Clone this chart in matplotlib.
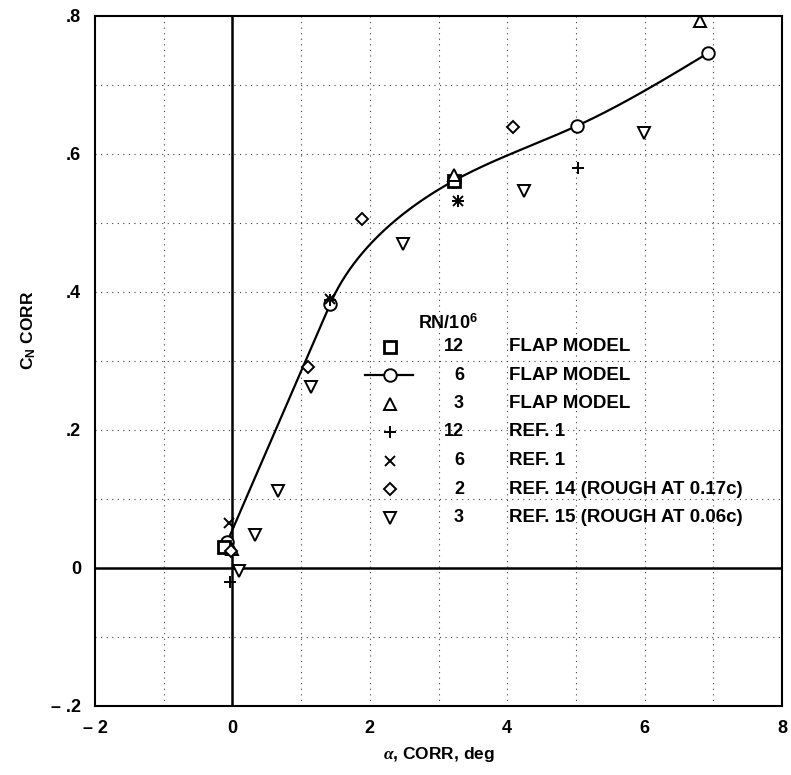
import numpy as np
import matplotlib
matplotlib.use("Agg")
import matplotlib.pyplot as plt

plt.rcParams["font.family"] = ["Liberation Sans", "DejaVu Sans"]
plt.rcParams["font.weight"] = "bold"
plt.rcParams["mathtext.fontset"] = "custom"
plt.rcParams["mathtext.rm"] = "Liberation Sans:bold"
plt.rcParams["mathtext.it"] = "Liberation Serif:italic"
plt.rcParams["mathtext.bf"] = "Liberation Sans:bold"

# 12 x 10^6, flap model
flap12_a = [-0.12, 3.22]
flap12_cn = [0.031, 0.561]
# 6 x 10^6, flap model (faired curve)
flap6_a = [-0.08, 1.42, 3.22, 5.02, 6.92]
flap6_cn = [0.037, 0.382, 0.561, 0.641, 0.746]
# 3 x 10^6, flap model
flap3_a = [0.0, 3.22, 6.81]
flap3_cn = [0.027, 0.569, 0.793]
# 12 x 10^6, ref. 1
ref1_12_a = [-0.04, 1.42, 3.28, 5.03]
ref1_12_cn = [-0.02, 0.388, 0.532, 0.579]
# 6 x 10^6, ref. 1
ref1_6_a = [-0.05, 1.42, 3.28]
ref1_6_cn = [0.065, 0.390, 0.532]
# 2 x 10^6, ref. 14
ref14_a = [-0.02, 1.10, 1.89, 4.09]
ref14_cn = [0.025, 0.291, 0.506, 0.639]
# 3 x 10^6, ref. 15
ref15_a = [0.10, 0.33, 0.66, 1.15, 2.49, 4.25, 5.99]
ref15_cn = [-0.005, 0.048, 0.111, 0.263, 0.470, 0.546, 0.631]

legend_rn = ["12", "6", "3", "12", "6", "2", "3"]
legend_desc = ["FLAP MODEL", "FLAP MODEL", "FLAP MODEL", "REF. 1", "REF. 1",
               "REF. 14 (ROUGH AT 0.17c)", "REF. 15 (ROUGH AT 0.06c)"]

x_ticks = [-2, 0, 2, 4, 6, 8]
x_labels = ["\u2013 2", "0", "2", "4", "6", "8"]
y_ticks = [-0.2, 0, 0.2, 0.4, 0.6, 0.8]
y_labels = ["\u2013 .2", "0", ".2", ".4", ".6", ".8"]


def spline_coeffs(t, v, start_slope=None):
    # cubic spline, clamped at the start if a slope is given, natural at the end
    n = len(t)
    h = np.diff(t)
    A = np.zeros((n, n))
    b = np.zeros(n)
    if start_slope is None:
        A[0, 0] = 1.0
    else:
        A[0, 0] = 2 * h[0]
        A[0, 1] = h[0]
        b[0] = 3 * ((v[1] - v[0]) / h[0] - start_slope)
    A[-1, -1] = 1.0
    for i in range(1, n - 1):
        A[i, i - 1] = h[i - 1]
        A[i, i] = 2 * (h[i - 1] + h[i])
        A[i, i + 1] = h[i]
        b[i] = 3 * ((v[i + 1] - v[i]) / h[i] - (v[i] - v[i - 1]) / h[i - 1])
    return np.linalg.solve(A, b)


def spline_eval(t, v, c, ts):
    h = np.diff(t)
    out = np.empty_like(ts)
    for k, tv in enumerate(ts):
        i = min(max(np.searchsorted(t, tv) - 1, 0), len(t) - 2)
        bi = (v[i + 1] - v[i]) / h[i] - h[i] * (2 * c[i] + c[i + 1]) / 3
        di = (c[i + 1] - c[i]) / (3 * h[i])
        d = tv - t[i]
        out[k] = v[i] + bi * d + c[i] * d ** 2 + di * d ** 3
    return out


def faired_curve(x, y, yscale=10.0, npts=400):
    # straight lift-curve segment between the first two points, then a
    # parametric chord-length spline leaving tangent to that segment
    x = np.asarray(x, float)
    y = np.asarray(y, float) * yscale
    dx, dy = x[1] - x[0], y[1] - y[0]
    L = np.hypot(dx, dy)
    xr, yr = x[1:], y[1:]
    t = np.concatenate([[0], np.cumsum(np.hypot(np.diff(xr), np.diff(yr)))])
    ts = np.linspace(0, t[-1], npts)
    xs = spline_eval(t, xr, spline_coeffs(t, xr, dx / L), ts)
    ys = spline_eval(t, yr, spline_coeffs(t, yr, dy / L), ts)
    xs = np.concatenate([[x[0]], xs])
    ys = np.concatenate([[y[0]], ys])
    return xs, ys / yscale


fig = plt.figure(figsize=(7.91, 7.75), dpi=100)
ax = fig.add_axes([95 / 791, 1 - 706 / 775, 687 / 791, 690 / 775])
ax.set_xlim(-2, 8)
ax.set_ylim(-0.2, 0.8)

# dotted grid
for gx in np.arange(-1, 8):
    if gx != 0:
        ax.axvline(gx, color="0.25", lw=0.8, ls=(0, (1, 4)), zorder=0)
for gy in np.arange(-0.1, 0.8, 0.1):
    if abs(gy) > 1e-9:
        ax.axhline(gy, color="0.25", lw=0.8, ls=(0, (1, 4)), zorder=0)
ax.axhline(0, color="black", lw=1.8, zorder=1)
ax.axvline(0, color="black", lw=1.8, zorder=1)

for s in ax.spines.values():
    s.set_linewidth(1.5)

ax.set_xticks(x_ticks)
ax.set_xticklabels(x_labels)
ax.set_yticks(y_ticks)
ax.set_yticklabels(y_labels)
ax.tick_params(length=0, labelsize=13, pad=10)
for lab in ax.get_xticklabels() + ax.get_yticklabels():
    lab.set_fontweight("bold")

ax.set_xlabel(r"$\alpha$, CORR, deg", fontsize=12.5, fontweight="bold", labelpad=6)
ax.set_ylabel(r"C$_{\mathrm{N}}$ CORR", fontsize=12.5, fontweight="bold")
ax.yaxis.set_label_coords(-0.083, 0.545)

mk = dict(mfc="white", mec="black", ls="none", mew=1.4, ms=9, zorder=3)

cx, cy = faired_curve(flap6_a, flap6_cn)
ax.plot(cx, cy, color="black", lw=1.6, zorder=2)
ax.plot(flap6_a, flap6_cn, marker="o", **mk)
ax.plot(flap12_a, flap12_cn, marker="s", **{**mk, "mew": 2.0, "ms": 8})
ax.plot(flap3_a, flap3_cn, marker="^", **mk)
ax.plot(ref1_12_a, ref1_12_cn, marker="+", **{**mk, "ms": 9})
ax.plot(ref1_6_a, ref1_6_cn, marker="x", **{**mk, "ms": 7})
ax.plot(ref14_a, ref14_cn, marker="D", **{**mk, "ms": 6.5})
ax.plot(ref15_a, ref15_cn, marker="v", **mk)


# key, placed in axes fraction
def fx(px):
    return (px - 95) / 687


def fy(py):
    return (706 - py) / 690


ax.text(fx(418), fy(323), r"RN/10$^{\mathrm{6}}$", transform=ax.transAxes,
        fontsize=13, fontweight="bold", va="center", ha="left")
key_styles = [
    dict(marker="s", mew=2.0, ms=8),
    dict(marker="o", mew=1.4, ms=9),
    dict(marker="^", mew=1.4, ms=9),
    dict(marker="+", mew=1.4, ms=9),
    dict(marker="x", mew=1.4, ms=7),
    dict(marker="D", mew=1.4, ms=6.5),
    dict(marker="v", mew=1.4, ms=9),
]
row_y = [346.5, 375, 403.5, 432, 460.5, 489, 517.5]
for i, (rn, desc, st) in enumerate(zip(legend_rn, legend_desc, key_styles)):
    yy = fy(row_y[i])
    if i == 1:
        ax.plot([fx(365), fx(413)], [yy, yy], color="black", lw=1.6,
                transform=ax.transAxes, clip_on=False, zorder=3)
    ax.plot([fx(390)], [yy], ls="none", mfc="white", mec="black",
            transform=ax.transAxes, clip_on=False, zorder=4, **st)
    ax.text(fx(464), yy, rn, transform=ax.transAxes, fontsize=13,
            fontweight="bold", ha="right", va="center")
    ax.text(fx(509), yy, desc, transform=ax.transAxes, fontsize=13.5,
            fontweight="bold", ha="left", va="center")

fig.savefig("out.png", dpi=100)
